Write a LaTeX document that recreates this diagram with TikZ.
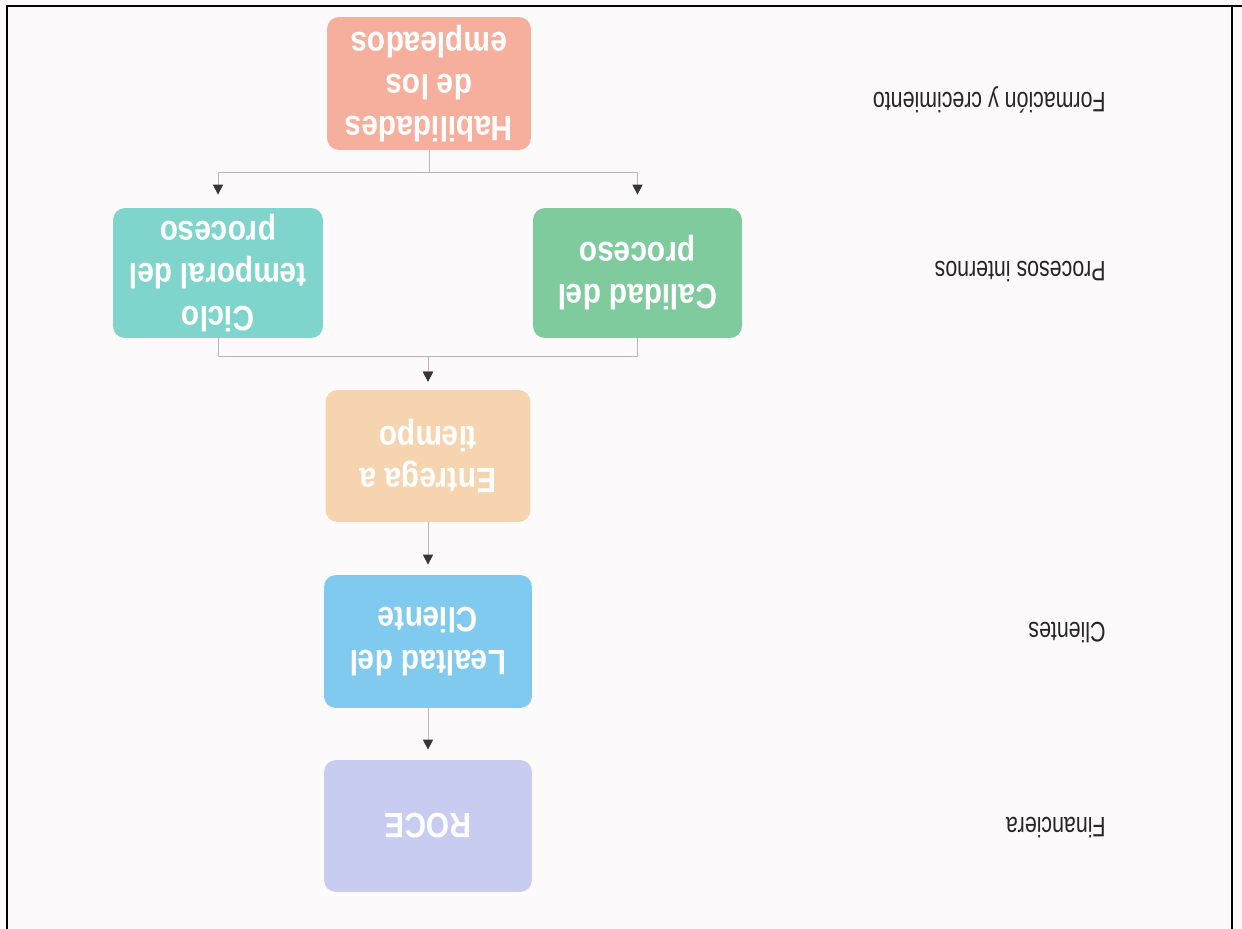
\documentclass[tikz,border=0pt]{standalone}
\usepackage{fontspec}
\setmainfont{Liberation Sans}
\newfontfamily\labfont[FakeStretch=0.76]{Liberation Sans}
\newfontfamily\boxfont[FakeStretch=0.85]{Liberation Sans}
\usetikzlibrary{arrows.meta}
\definecolor{bgc}{HTML}{FCFAFA}
\definecolor{habc}{HTML}{F6AF9D}
\definecolor{calc}{HTML}{7FCB9E}
\definecolor{cicc}{HTML}{7FD4CB}
\definecolor{entc}{HTML}{F7D4B0}
\definecolor{leac}{HTML}{80CAF0}
\definecolor{rocc}{HTML}{C8CCF0}
\definecolor{connc}{HTML}{C9AFB3}
\definecolor{tipc}{HTML}{3A3436}
\tikzset{
  kpibox/.style={rotate=180, rounded corners=0.24cm, draw=none, text=white,
    font=\boxfont\bfseries\fontsize{20}{24}\selectfont, align=center,
    inner sep=2pt},
  perlabel/.style={rotate=180, anchor=west, font=\labfont\fontsize{16}{19}\selectfont,
    text=black!85, inner sep=0pt},
  conn/.style={draw=connc, line width=0.5pt},
  tip/.style={-{Triangle[length=0.2cm,width=0.2cm,color=tipc,fill=tipc]}, shorten >=#1},
  frameline/.style={line width=1.1pt, draw=black}
}
\begin{document}
\begin{tikzpicture}[x=0.02cm,y=-0.02cm]
\useasboundingbox (0,0) rectangle (1242,929);
\fill[bgc] (0,0) rectangle (1242,929);
% frame
\draw[frameline] (7,935) -- (7,6) -- (1250,6);
\draw[frameline] (1232,6) -- (1232,935);
% boxes
\node[kpibox, fill=habc, minimum width=4.08cm, minimum height=2.66cm] (hab) at (429,83.5) {Habilidades\\de los\\empleados};
\node[kpibox, fill=calc, minimum width=4.18cm, minimum height=2.6cm] (cal) at (637.5,273) {Calidad del\\proceso};
\node[kpibox, fill=cicc, minimum width=4.2cm, minimum height=2.6cm] (cic) at (218,273) {Ciclo\\temporal del\\proceso};
\node[kpibox, fill=entc, minimum width=4.1cm, minimum height=2.64cm] (ent) at (428,456) {Entrega a\\tiempo};
\node[kpibox, fill=leac, minimum width=4.16cm, minimum height=2.66cm] (lea) at (428,641.5) {Lealtad del\\Cliente};
\node[kpibox, fill=rocc, minimum width=4.16cm, minimum height=2.64cm] (roc) at (428,826) {ROCE};
% perspective labels
\node[perlabel] (l1) at (1106,100) {Formación y crecimiento};
\node[perlabel] (l2) at (1106,272) {Procesos internos};
\node[perlabel] (l3) at (1106,633) {Clientes};
\node[perlabel] (l4) at (1106,828) {Financiera};
% connectors
\draw[conn, tip=0.26cm] (hab.north) -- ++(0,22) -| (cal.south);
\draw[conn, tip=0.26cm] (hab.north) -- ++(0,22) -| (cic.south);
\draw[conn, tip=0.16cm] (cal.north) -- ++(0,18) -| (ent.south);
\draw[conn, tip=0.16cm] (cic.north) -- ++(0,18) -| (ent.south);
\draw[conn, tip=0.2cm] (ent.north) -- (lea.south);
\draw[conn, tip=0.2cm] (lea.north) -- (roc.south);
\end{tikzpicture}
\end{document}
